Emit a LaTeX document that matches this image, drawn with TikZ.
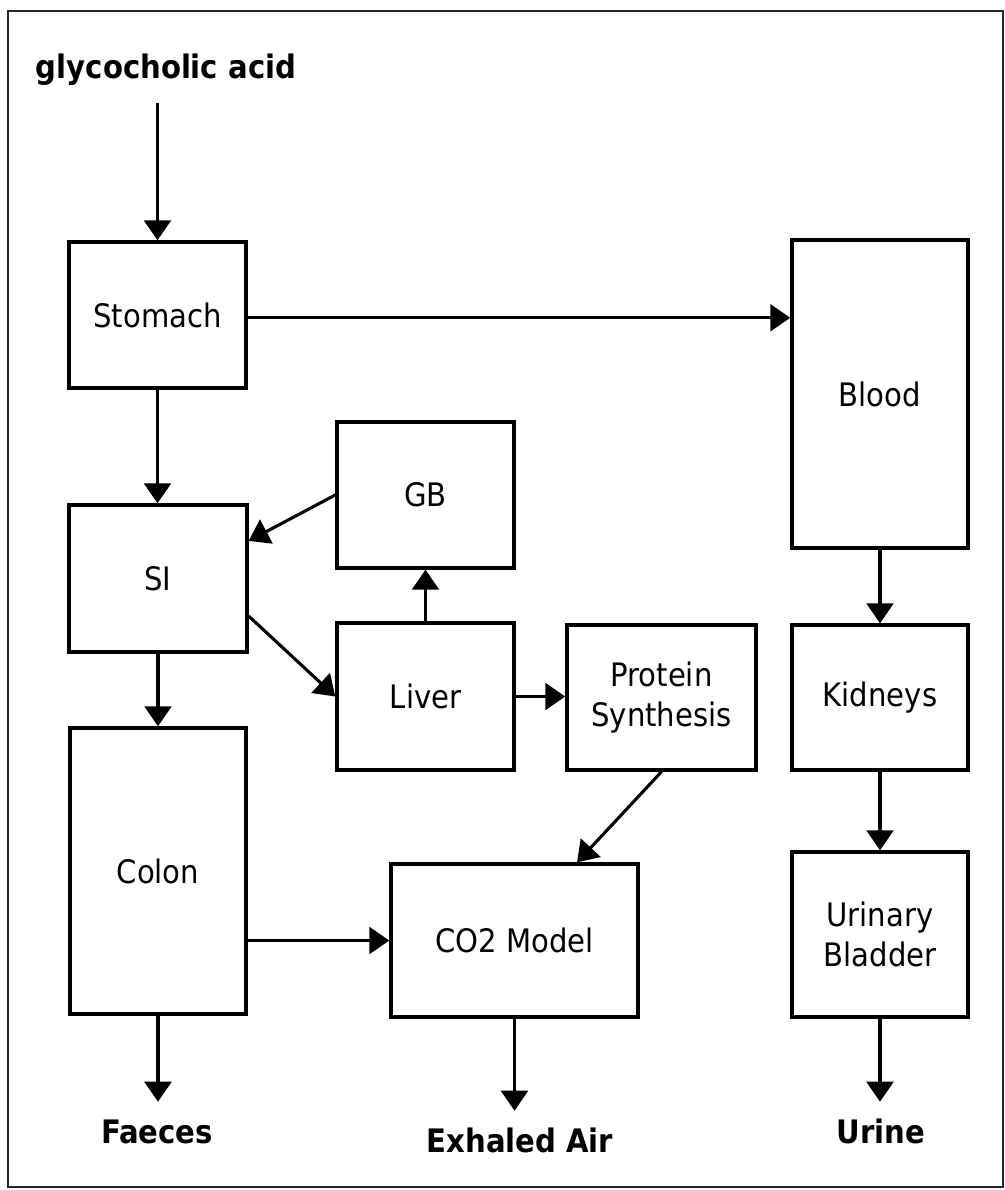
\documentclass[tikz,border=0pt]{standalone}
\usepackage{fontspec}
\setmainfont[FakeStretch=0.9]{DejaVu Sans}
\usepackage{tikz}
\usetikzlibrary{arrows.meta, positioning, calc}

\begin{document}
\begin{tikzpicture}[x=0.025cm, y=-0.025cm,
    organ/.style={rectangle, draw, line width=2.4pt, align=center, inner sep=0pt,
                  font=\fontsize{23}{29}\selectfont},
    outlabel/.style={font=\fontsize{23}{28}\selectfont\bfseries, inner xsep=0pt,
                     inner ysep=0.475cm, text height=0.55cm, text depth=0.15cm,
                     anchor=base},
    arrow/.style={-{Triangle[length=0.5cm, width=0.67cm]}, line width=2.2pt}]

    \useasboundingbox (0,0) rectangle (1005,1190);
    \draw[line width=1.4pt, black!85] (8,11) rectangle (1003,1187);

    % Organ boxes
    \node[organ, minimum width=4.425cm, minimum height=3.65cm] (stomach) at (157.5,315) {Stomach};
    \node[organ, minimum width=4.4cm, minimum height=7.7cm] (blood) at (880,394) {Blood};
    \node[organ, minimum width=4.425cm, minimum height=3.65cm] (gb) at (425.5,495) {GB};
    \node[organ, minimum width=4.45cm, minimum height=3.675cm] (si) at (158,578.5) {SI};
    \node[organ, minimum width=4.425cm, minimum height=3.675cm] (liver) at (425.5,696.5) {Liver};
    \node[organ, minimum width=4.725cm, minimum height=3.625cm] (protein) at (661.5,697.5) {Protein\\Synthesis};
    \node[organ, minimum width=4.4cm, minimum height=3.625cm] (kidneys) at (880,697.5) {Kidneys};
    \node[organ, minimum width=4.4cm, minimum height=7.15cm] (colon) at (158,871) {Colon};
    \node[organ, minimum width=6.175cm, minimum height=3.825cm] (co2) at (514.5,940.5) {CO2 Model};
    \node[organ, minimum width=4.4cm, minimum height=4.125cm] (bladder) at (880,934.5) {Urinary\\Bladder};

    % Input and outputs
    \node[outlabel] (acid) at (166,78) {glycocholic acid};
    \node[outlabel] (faeces) at (157,1143) {Faeces};
    \node[outlabel] (exhaled) at (520,1152) {Exhaled Air};
    \node[outlabel] (urine) at (881,1143) {Urine};

    % Gut path
    \draw[arrow] (acid.south -| stomach) -- (stomach);
    \draw[arrow] (stomach.south) -- (stomach.south |- si.north);
    \draw[arrow] (si) -- (colon);
    \draw[arrow] (colon) -- (colon |- faeces.north);

    % Liver and gall bladder
    \draw[arrow] (gb.west) -- ($(si.north east)!0.25!(si.south east)$);
    \draw[arrow] ($(si.north east)!0.75!(si.south east)$) -- (liver.west);
    \draw[arrow] (liver) -- (gb);
    \draw[arrow] (liver) -- (liver -| protein.west);

    % CO2
    \draw[arrow] (protein.south) -- ($(co2.north west)!0.75!(co2.north east)$);
    \draw[arrow] (colon.east |- co2) -- (co2);
    \draw[arrow] (co2) -- (co2 |- exhaled.north);

    % Blood and urine
    \draw[arrow] ([yshift=-2]stomach.east) -- ([yshift=-2]blood.west |- stomach);
    \draw[arrow] (blood) -- (kidneys);
    \draw[arrow] (kidneys) -- (bladder);
    \draw[arrow] (bladder) -- (bladder |- urine.north);

\end{tikzpicture}
\end{document}
